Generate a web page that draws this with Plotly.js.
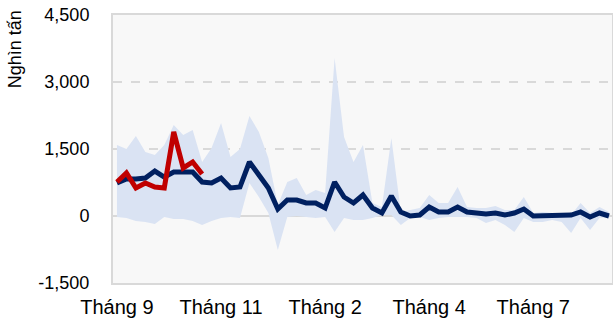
<!DOCTYPE html>
<html>
<head>
<meta charset="utf-8">
<script src="https://cdn.plot.ly/plotly-3.0.1.min.js"></script>
<style>html,body{margin:0;padding:0;background:#fff;}#chart{width:613px;height:319px;}</style>
</head>
<body>
<div id="chart"></div>
<script>
// Weekly series (53 weeks)
var navyValues = [739, 828, 828, 851, 1007, 873, 985, 985, 985, 761,
  739, 851, 627, 649, 1209, 918, 627, 157, 358, 358,
  291, 291, 179, 761, 425, 291, 470, 179, 67, 448,
  90, 0, 22, 201, 90, 90, 201, 90, 67, 45,
  67, 22, 67, 157, 0, 0, 0, 0, 22, 90,
  -22, 67, 0];
var redValues = [761, 963, 627, 739, 649, 627, 1881, 1075, 1209, 940];
var bandUpper = [1590, 1500, 1791, 1433, 1366, 1590, 2037, 1813, 1925, 1209,
  1522, 2082, 1321, 1500, 2239, 1881, 1299, 246, 761, 851,
  470, 582, 515, 3537, 1769, 1209, 1590, 291, 201, 1746,
  90, 134, 179, 470, 291, 291, 649, 201, 179, 179,
  224, 134, 134, 425, 67, 90, 67, 45, 22, 291,
  67, 201, 90];
var bandLower = [-22, -45, -112, -134, -179, -22, -67, -67, -112, -201,
  -112, -45, -22, -45, 739, 425, 67, -761, -22, 0,
  -22, -45, -22, -358, -45, -90, -90, -45, 22, 22,
  -201, -45, -22, -90, -45, -22, -22, -22, -45, -157,
  -90, -201, -358, -45, -134, -134, -90, -134, -380, -45,
  -313, -45, -22];
var tickIndex = [0, 11, 22, 33, 44];
var tickLabels = ["Tháng 9", "Tháng 11", "Tháng 2", "Tháng 4", "Tháng 7"];
var yTicks = [-1500, 0, 1500, 3000, 4500];
var yTickLabels = ["-1,500", "0", "1,500", "3,000", "4,500"];

var xs = navyValues.map(function(_, i){ return i; });
var xr = redValues.map(function(_, i){ return i; });

var traces = [
  {x: xs, y: bandLower, type: 'scatter', mode: 'lines', line: {width: 0, color: 'rgba(0,0,0,0)'}, hoverinfo: 'skip', showlegend: false},
  {x: xs, y: bandUpper, type: 'scatter', mode: 'lines', fill: 'tonexty', fillcolor: '#dae3f3', line: {width: 0, color: 'rgba(0,0,0,0)'}, hoverinfo: 'skip', showlegend: false},
  {x: xs, y: navyValues, type: 'scatter', mode: 'lines', line: {color: '#002060', width: 5}, showlegend: false},
  {x: xr, y: redValues, type: 'scatter', mode: 'lines', line: {color: '#c00000', width: 5}, showlegend: false}
];

var layout = {
  width: 613, height: 319,
  margin: {l: 113, r: 1, t: 15, b: 36},
  paper_bgcolor: '#ffffff',
  plot_bgcolor: '#f8f8f8',
  font: {family: 'Liberation Sans, Arial, sans-serif', size: 15, color: '#000'},
  xaxis: {
    range: [-0.42, 52.32],
    tickmode: 'array', tickvals: tickIndex, ticktext: tickLabels,
    showgrid: false, zeroline: false,
    showline: true, mirror: true, linecolor: '#d9d9d9', linewidth: 2,
    ticks: '', tickfont: {size: 20, color: '#000'},
    ticklabelstandoff: 5
  },
  yaxis: {
    range: [-1500, 4500],
    tickmode: 'array', tickvals: yTicks, ticktext: yTickLabels,
    showgrid: true, gridcolor: '#d9d9d9', griddash: 'dash', gridwidth: 1.5,
    zeroline: true, zerolinecolor: '#d9d9d9', zerolinewidth: 2,
    showline: true, mirror: true, linecolor: '#d9d9d9', linewidth: 2,
    ticks: '', tickfont: {size: 18, color: '#000'},
    ticklabelstandoff: 18
  },
  annotations: [{
    text: 'Nghìn tấn', xref: 'paper', yref: 'paper',
    x: -0.196, y: 1.026, xanchor: 'center', yanchor: 'top',
    textangle: -90, showarrow: false,
    font: {size: 18, color: '#000'}
  }]
};
Plotly.newPlot('chart', traces, layout, {displayModeBar: false, staticPlot: true});
</script>
</body>
</html>
